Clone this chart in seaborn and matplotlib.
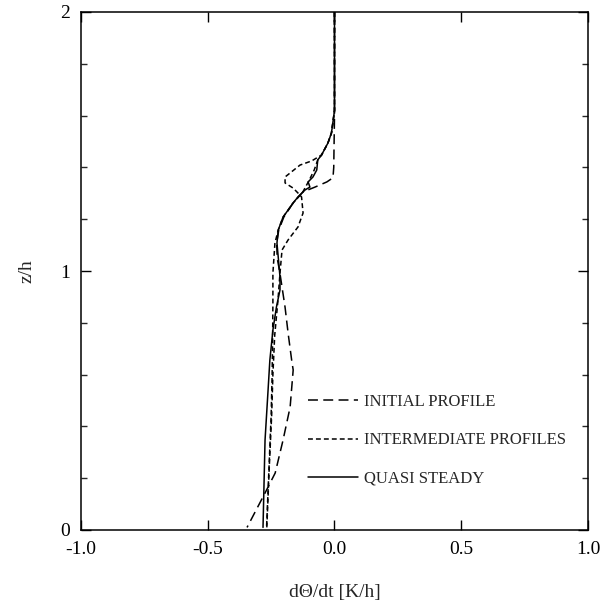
import numpy as np
import pandas as pd
import matplotlib
matplotlib.use("Agg")
import matplotlib.pyplot as plt
import seaborn as sns
from matplotlib.lines import Line2D
from matplotlib.ticker import MultipleLocator

# ---- data ----
initial_x = [0.0, 0.0, -0.003, -0.006, -0.030, -0.077, -0.125, -0.163, -0.200, -0.220,
             -0.228, -0.226, -0.215, -0.195, -0.183, -0.169, -0.163, -0.175, -0.203,
             -0.234, -0.274, -0.345]
initial_z = [2.0, 1.60, 1.40, 1.36, 1.344, 1.324, 1.305, 1.263, 1.208, 1.158,
             1.108, 1.05, 0.99, 0.86, 0.76, 0.656, 0.618, 0.475, 0.347,
             0.22, 0.143, 0.01]

steady_x = [0.0, 0.0, -0.005, -0.012, -0.026, -0.051, -0.066, -0.070, -0.085, -0.104,
            -0.097, -0.116, -0.144, -0.163, -0.203, -0.222, -0.227, -0.222, -0.215,
            -0.215, -0.229, -0.243, -0.255, -0.262, -0.274, -0.282]
steady_z = [2.0, 1.62, 1.583, 1.533, 1.494, 1.448, 1.429, 1.390, 1.363, 1.344,
            1.324, 1.313, 1.286, 1.263, 1.208, 1.158, 1.108, 1.054, 0.977,
            0.927, 0.861, 0.772, 0.656, 0.541, 0.347, 0.01]

inter1_x = [0.0, 0.0, -0.005, -0.012, -0.026, -0.051, -0.090, -0.136, -0.195, -0.195,
            -0.163, -0.144, -0.130, -0.124, -0.144, -0.183, -0.207, -0.215, -0.223,
            -0.236, -0.243, -0.248, -0.257, -0.267]
inter1_z = [2.0, 1.62, 1.583, 1.533, 1.494, 1.448, 1.425, 1.409, 1.363, 1.340,
            1.320, 1.301, 1.286, 1.224, 1.170, 1.120, 1.081, 0.992, 0.888,
            0.75, 0.60, 0.44, 0.25, 0.01]

inter2_x = [0.0, 0.0, -0.005, -0.012, -0.026, -0.051, -0.066, -0.080, -0.100, -0.125,
            -0.163, -0.203, -0.222, -0.235, -0.243, -0.243, -0.244, -0.246, -0.250,
            -0.258, -0.268]
inter2_z = [2.0, 1.62, 1.583, 1.533, 1.494, 1.448, 1.429, 1.390, 1.350, 1.305,
            1.263, 1.208, 1.158, 1.108, 0.992, 0.876, 0.75, 0.60, 0.44,
            0.25, 0.01]

labels = ["INITIAL PROFILE", "INTERMEDIATE PROFILES", "QUASI STEADY"]
x_ticks = [-1.0, -0.5, 0.0, 0.5, 1.0]
x_ticklabels = ["-1.0", "-0.5", "0.0", "0.5", "1.0"]
y_ticks = [0, 1, 2]

frames = []
for run, (xs, zs, lab) in enumerate([(initial_x, initial_z, labels[0]),
                                      (inter1_x, inter1_z, labels[1]),
                                      (inter2_x, inter2_z, labels[1]),
                                      (steady_x, steady_z, labels[2])]):
    frames.append(pd.DataFrame({"dtheta": xs, "z": zs, "profile": lab, "run": run}))
df = pd.concat(frames, ignore_index=True)

# ---- style ----
sns.set_theme(style="ticks")
plt.rcParams["font.family"] = ["Liberation Serif", "DejaVu Serif"]
plt.rcParams["axes.linewidth"] = 1.1

lw = 1.1
dash_styles = {labels[0]: (6.5, 3.5), labels[1]: (3.2, 2.0), labels[2]: ""}

fig = plt.figure(figsize=(6.13, 6.13), dpi=100)
ax = fig.add_axes([81/613, 83/613, 507/613, 518/613])

sns.lineplot(data=df, x="dtheta", y="z", style="profile", units="run",
             estimator=None, sort=False, orient="y", color="black",
             dashes=dash_styles, linewidth=lw, legend=False, ax=ax)

ax.set_xlim(-1.0, 1.0)
ax.set_ylim(0, 2)
ax.set_xticks(x_ticks)
ax.set_xticklabels(x_ticklabels)
ax.set_yticks(y_ticks)
ax.yaxis.set_minor_locator(MultipleLocator(0.2))
ax.tick_params(axis="both", which="major", direction="in", top=True, right=True,
               length=7.5, width=1.0, labelsize=14, colors="black", pad=8)
ax.tick_params(axis="y", which="minor", direction="in", right=True, left=True,
               length=4.5, width=1.0)
for s in ax.spines.values():
    s.set_color("black")

ax.set_xlabel("dΘ/dt [K/h]", fontsize=14)
ax.set_ylabel("z/h", fontsize=14)
ax.xaxis.set_label_coords(0.5, -0.105)
ax.yaxis.set_label_coords(-0.09, 0.5)

handles = [Line2D([], [], color="black", lw=lw, linestyle=(0, dash_styles[labels[0]])),
           Line2D([], [], color="black", lw=lw, linestyle=(0, dash_styles[labels[1]])),
           Line2D([], [], color="black", lw=lw, linestyle="-")]
ax.legend(handles, labels, loc="upper left", bbox_to_anchor=(0.434, 0.275),
          frameon=False, fontsize=12, handlelength=3.0, handletextpad=0.4,
          labelspacing=1.33, borderaxespad=0)

fig.savefig("out.png", dpi=100, facecolor="white")
